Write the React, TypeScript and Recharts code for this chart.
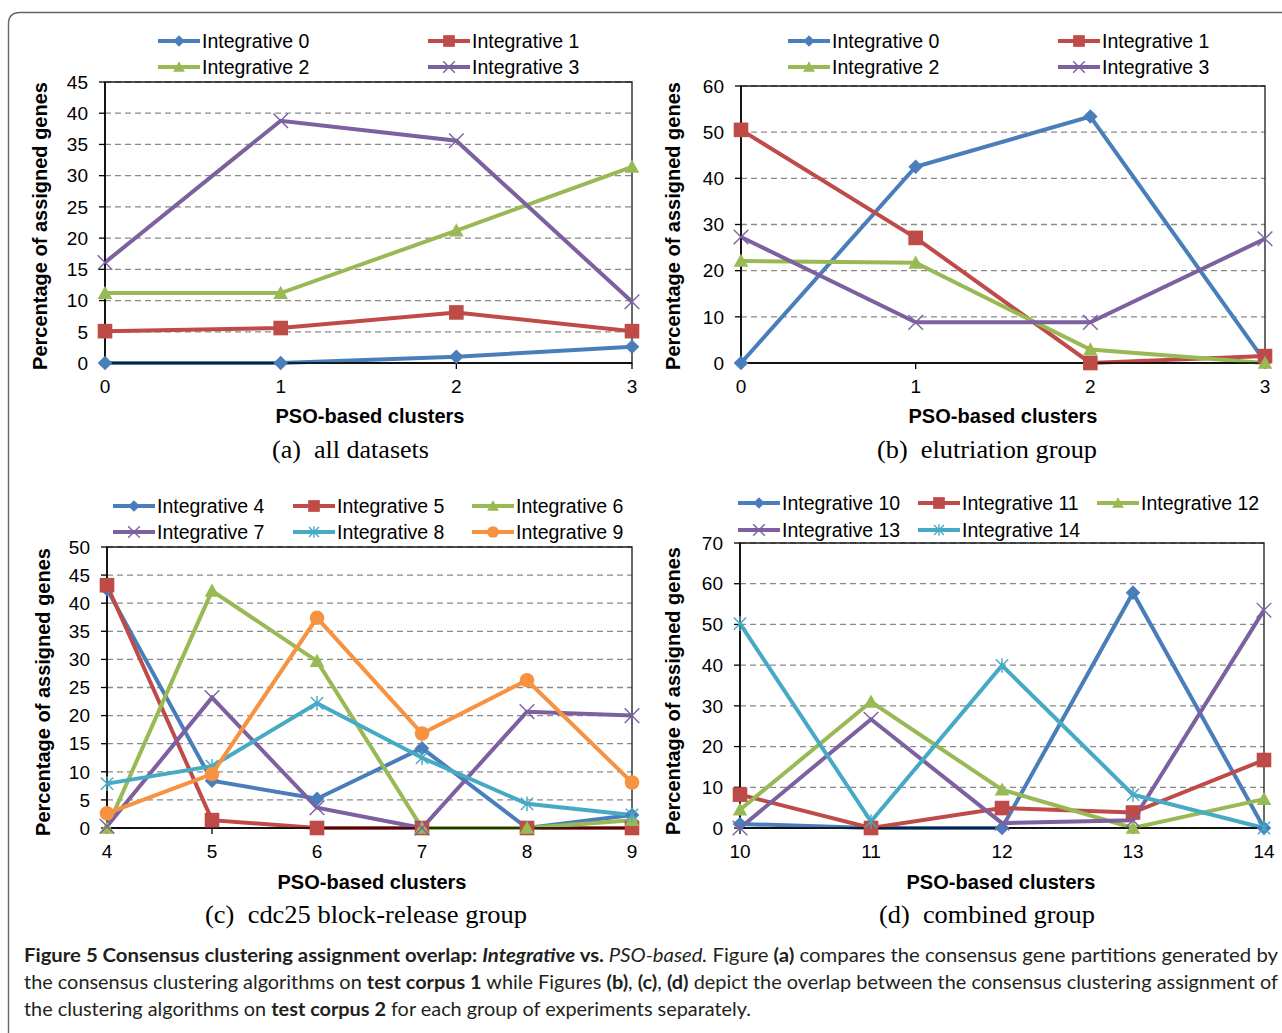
import React from 'react';
import { LineChart, Line, XAxis, YAxis, CartesianGrid, ReferenceArea } from 'recharts';

const BLUE = '#4A7EBB';
const RED = '#BE4B48';
const GREEN = '#98B954';
const PURPLE = '#7D60A0';
const CYAN = '#46AAC5';
const ORANGE = '#F69240';

// (a) all datasets
const clustersA = ['0', '1', '2', '3'];
const ticksA = [0, 5, 10, 15, 20, 25, 30, 35, 40, 45];
const int0A = [0, 0, 1.0, 2.6];
const int1A = [5.1, 5.6, 8.1, 5.1];
const int2A = [11.2, 11.2, 21.2, 31.4];
const int3A = [16.1, 38.8, 35.6, 9.8];

// (b) elutriation group
const clustersB = ['0', '1', '2', '3'];
const ticksB = [0, 10, 20, 30, 40, 50, 60];
const int0B = [0, 42.5, 53.4, 0.3];
const int1B = [50.5, 27.1, 0, 1.5];
const int2B = [22.1, 21.7, 2.9, 0];
const int3B = [27.3, 8.8, 8.8, 26.9];

// (c) cdc25 block-release group
const clustersC = ['4', '5', '6', '7', '8', '9'];
const ticksC = [0, 5, 10, 15, 20, 25, 30, 35, 40, 45, 50];
const int4C = [42.5, 8.4, 5.2, 14.2, 0, 2.3];
const int5C = [43.2, 1.4, 0, 0, 0, 0];
const int6C = [0, 42.2, 29.7, 0, 0, 1.4];
const int7C = [0.3, 23.2, 3.6, 0, 20.7, 20.0];
const int8C = [7.9, 11.0, 22.2, 12.5, 4.3, 2.3];
const int9C = [2.6, 9.6, 37.4, 16.8, 26.3, 8.1];

// (d) combined group
const clustersD = ['10', '11', '12', '13', '14'];
const ticksD = [0, 10, 20, 30, 40, 50, 60, 70];
const int10D = [1.0, 0, 0, 57.8, 0];
const int11D = [8.2, 0, 4.9, 3.8, 16.7];
const int12D = [4.5, 31.0, 9.4, 0, 7.1];
const int13D = [0, 26.7, 1.2, 1.9, 53.5];
const int14D = [50.2, 1.6, 39.9, 8.2, 0];

type Kind = 'diamond' | 'square' | 'triangle' | 'x' | 'star' | 'circle';
type Series = { name: string; values: number[]; color: string; marker: Kind };

const seriesA: Series[] = [
  { name: 'Integrative 0', values: int0A, color: BLUE, marker: 'diamond' },
  { name: 'Integrative 1', values: int1A, color: RED, marker: 'square' },
  { name: 'Integrative 2', values: int2A, color: GREEN, marker: 'triangle' },
  { name: 'Integrative 3', values: int3A, color: PURPLE, marker: 'x' },
];
const seriesB: Series[] = [
  { name: 'Integrative 0', values: int0B, color: BLUE, marker: 'diamond' },
  { name: 'Integrative 1', values: int1B, color: RED, marker: 'square' },
  { name: 'Integrative 2', values: int2B, color: GREEN, marker: 'triangle' },
  { name: 'Integrative 3', values: int3B, color: PURPLE, marker: 'x' },
];
const seriesC: Series[] = [
  { name: 'Integrative 4', values: int4C, color: BLUE, marker: 'diamond' },
  { name: 'Integrative 5', values: int5C, color: RED, marker: 'square' },
  { name: 'Integrative 6', values: int6C, color: GREEN, marker: 'triangle' },
  { name: 'Integrative 7', values: int7C, color: PURPLE, marker: 'x' },
  { name: 'Integrative 8', values: int8C, color: CYAN, marker: 'star' },
  { name: 'Integrative 9', values: int9C, color: ORANGE, marker: 'circle' },
];
const seriesD: Series[] = [
  { name: 'Integrative 10', values: int10D, color: BLUE, marker: 'diamond' },
  { name: 'Integrative 11', values: int11D, color: RED, marker: 'square' },
  { name: 'Integrative 12', values: int12D, color: GREEN, marker: 'triangle' },
  { name: 'Integrative 13', values: int13D, color: PURPLE, marker: 'x' },
  { name: 'Integrative 14', values: int14D, color: CYAN, marker: 'star' },
];

const SANS = '"Liberation Sans", Arial, sans-serif';
const SERIF = '"Liberation Serif", "Times New Roman", serif';

const Marker = ({ kind, cx, cy, color, s = 1 }: { kind: Kind; cx: number; cy: number; color: string; s?: number }) => {
  const r = 7.3 * s;
  switch (kind) {
    case 'diamond':
      return <polygon points={`${cx},${cy - r} ${cx + r},${cy} ${cx},${cy + r} ${cx - r},${cy}`} fill={color} />;
    case 'square':
      return <rect x={cx - r} y={cy - r} width={2 * r} height={2 * r} fill={color} />;
    case 'triangle':
      return <polygon points={`${cx},${cy - r} ${cx + r},${cy + 0.8 * r} ${cx - r},${cy + 0.8 * r}`} fill={color} />;
    case 'circle':
      return <circle cx={cx} cy={cy} r={r} fill={color} />;
    case 'x':
      return (
        <g stroke={color} strokeWidth={1.4}>
          <line x1={cx - r} y1={cy - r} x2={cx + r} y2={cy + r} />
          <line x1={cx - r} y1={cy + r} x2={cx + r} y2={cy - r} />
        </g>
      );
    case 'star':
      return (
        <g stroke={color} strokeWidth={1.4}>
          <line x1={cx - r * 0.85} y1={cy - r * 0.85} x2={cx + r * 0.85} y2={cy + r * 0.85} />
          <line x1={cx - r * 0.85} y1={cy + r * 0.85} x2={cx + r * 0.85} y2={cy - r * 0.85} />
          <line x1={cx} y1={cy - r} x2={cx} y2={cy + r} />
        </g>
      );
  }
  return null;
};

type PanelProps = {
  plotLeft: number;
  plotTop: number;
  plotW: number;
  plotH: number;
  categories: string[];
  series: Series[];
  ticks: number[];
};

const Panel = ({ plotLeft, plotTop, plotW, plotH, categories, series, ticks }: PanelProps) => {
  const data = categories.map((c, i) => {
    const row: Record<string, any> = { x: c };
    series.forEach((s, k) => { row['s' + k] = s.values[i]; });
    return row;
  });
  const yMax = ticks[ticks.length - 1];
  return (
    <div style={{ position: 'absolute', left: plotLeft - 100, top: plotTop - 20 }}>
      <LineChart width={plotW + 130} height={plotH + 60} data={data} margin={{ top: 20, right: 30, bottom: 10, left: 50 }}>
        <CartesianGrid vertical={false} stroke="#8a8a8a" strokeDasharray="6 4" strokeWidth={1.3} />
        <ReferenceArea x1={categories[0]} x2={categories[categories.length - 1]} y1={0} y2={yMax} fill="none" stroke="#1a1a1a" strokeWidth={1.3} fillOpacity={0} />
        <XAxis
          dataKey="x"
          height={30}
          interval={0}
          tickSize={6}
          tickMargin={11}
          axisLine={{ stroke: '#000', strokeWidth: 1.6 }}
          tickLine={{ stroke: '#000', strokeWidth: 1.3 }}
          tick={{ fill: '#000', fontSize: 19, fontFamily: SANS }}
        />
        <YAxis
          type="number"
          width={50}
          domain={[0, yMax]}
          ticks={ticks}
          interval={0}
          tickSize={6}
          tickMargin={11}
          axisLine={{ stroke: '#000', strokeWidth: 1.6 }}
          tickLine={{ stroke: '#000', strokeWidth: 1.3 }}
          tick={{ fill: '#000', fontSize: 19, fontFamily: SANS }}
        />
        {series.map((s, k) => (
          <Line
            key={s.name}
            type="linear"
            dataKey={'s' + k}
            name={s.name}
            stroke={s.color}
            strokeWidth={4}
            isAnimationActive={false}
            activeDot={false}
            dot={(p: any) => (
              <Marker key={`${s.name}-${p.index}`} kind={s.marker} cx={p.cx} cy={p.cy} color={s.color} />
            )}
          />
        ))}
      </LineChart>
    </div>
  );
};

const Legend = ({ series, cols, rows }: { series: Series[]; cols: number[]; rows: number[] }) => (
  <g>
    {series.map((s, i) => {
      const x = cols[i % cols.length];
      const y = rows[Math.floor(i / cols.length)];
      return (
        <g key={s.name}>
          <line x1={x} y1={y} x2={x + 42} y2={y} stroke={s.color} strokeWidth={4.2} />
          <Marker kind={s.marker} cx={x + 21} cy={y} color={s.color} s={0.8} />
          <text x={x + 44} y={y} dominantBaseline="central" fontSize={19.5} fontFamily={SANS} fill="#000">
            {s.name}
          </text>
        </g>
      );
    })}
  </g>
);

const YTitle = ({ cx, cy }: { cx: number; cy: number }) => (
  <text x={cx} y={cy} transform={`rotate(-90, ${cx}, ${cy})`} textAnchor="middle" dominantBaseline="central" fontSize={20} fontWeight="bold" fontFamily={SANS} fill="#000">
    Percentage of assigned genes
  </text>
);

const XTitle = ({ cx, cy }: { cx: number; cy: number }) => (
  <text x={cx} y={cy} textAnchor="middle" dominantBaseline="central" fontSize={20} fontWeight="bold" fontFamily={SANS} fill="#000">
    PSO-based clusters
  </text>
);

const Sub = ({ x, w, y, label }: { x: number; w: number; y: number; label: string }) => (
  <text x={x} y={y} fontSize={26} fontFamily={SERIF} fill="#000" textLength={w} lengthAdjust="spacingAndGlyphs" style={{ whiteSpace: 'pre' }}>
    {label}
  </text>
);

const CAP = 'Lato, "Noto Sans", sans-serif';

export default function App() {
  return (
    <div style={{ position: 'absolute', left: 0, top: 0, width: 1282, height: 1033, background: '#fff', overflow: 'hidden' }}>
      <Panel plotLeft={105} plotTop={82} plotW={527} plotH={281} categories={clustersA} series={seriesA} ticks={ticksA} />
      <Panel plotLeft={741} plotTop={86} plotW={524} plotH={277} categories={clustersB} series={seriesB} ticks={ticksB} />
      <Panel plotLeft={107} plotTop={547} plotW={525} plotH={281} categories={clustersC} series={seriesC} ticks={ticksC} />
      <Panel plotLeft={740} plotTop={543} plotW={524} plotH={285} categories={clustersD} series={seriesD} ticks={ticksD} />
      <svg width={1282} height={1033} style={{ position: 'absolute', left: 0, top: 0, pointerEvents: 'none' }}>
        <path d="M 8.5 1040 L 8.5 24 Q 8.5 12.5 20 12.5 L 1290 12.5" fill="none" stroke="#666" strokeWidth={1.4} />

        <Legend series={seriesA} cols={[158, 428]} rows={[41, 67]} />
        <Legend series={seriesB} cols={[788, 1058]} rows={[41, 67]} />
        <Legend series={seriesC} cols={[113, 293, 472]} rows={[506, 532]} />
        <Legend series={seriesD} cols={[738, 918, 1097]} rows={[503, 530]} />

        <YTitle cx={40} cy={226} />
        <YTitle cx={673} cy={226} />
        <YTitle cx={43} cy={692} />
        <YTitle cx={673} cy={691} />

        <XTitle cx={370} cy={416} />
        <XTitle cx={1003} cy={416} />
        <XTitle cx={372} cy={882} />
        <XTitle cx={1001} cy={882} />

        <Sub x={272} w={157} y={458} label="(a)  all datasets" />
        <Sub x={877} w={220} y={458} label="(b)  elutriation group" />
        <Sub x={205} w={322} y={923} label="(c)  cdc25 block-release group" />
        <Sub x={879} w={216} y={923} label="(d)  combined group" />

        <g fontFamily={CAP} fontSize={19} fill="#231f20" style={{ whiteSpace: 'pre' }}>
          <text x={24} y={962} textLength={1254} lengthAdjust="spacingAndGlyphs">
            <tspan fontWeight="bold">Figure 5 Consensus clustering assignment overlap: </tspan>
            <tspan fontWeight="bold" fontStyle="italic">Integrative</tspan>
            <tspan fontWeight="bold"> vs. </tspan>
            <tspan fontStyle="italic">PSO-based.</tspan>
            <tspan> Figure </tspan>
            <tspan fontWeight="bold">(a)</tspan>
            <tspan> compares the consensus gene partitions generated by</tspan>
          </text>
          <text x={24} y={989} textLength={1254} lengthAdjust="spacingAndGlyphs">
            <tspan>the consensus clustering algorithms on </tspan>
            <tspan fontWeight="bold">test corpus 1</tspan>
            <tspan> while Figures </tspan>
            <tspan fontWeight="bold">(b)</tspan>
            <tspan>, </tspan>
            <tspan fontWeight="bold">(c)</tspan>
            <tspan>, </tspan>
            <tspan fontWeight="bold">(d)</tspan>
            <tspan> depict the overlap between the consensus clustering assignment of</tspan>
          </text>
          <text x={24} y={1016} textLength={727} lengthAdjust="spacingAndGlyphs">
            <tspan>the clustering algorithms on </tspan>
            <tspan fontWeight="bold">test corpus 2</tspan>
            <tspan> for each group of experiments separately.</tspan>
          </text>
        </g>
      </svg>
    </div>
  );
}
